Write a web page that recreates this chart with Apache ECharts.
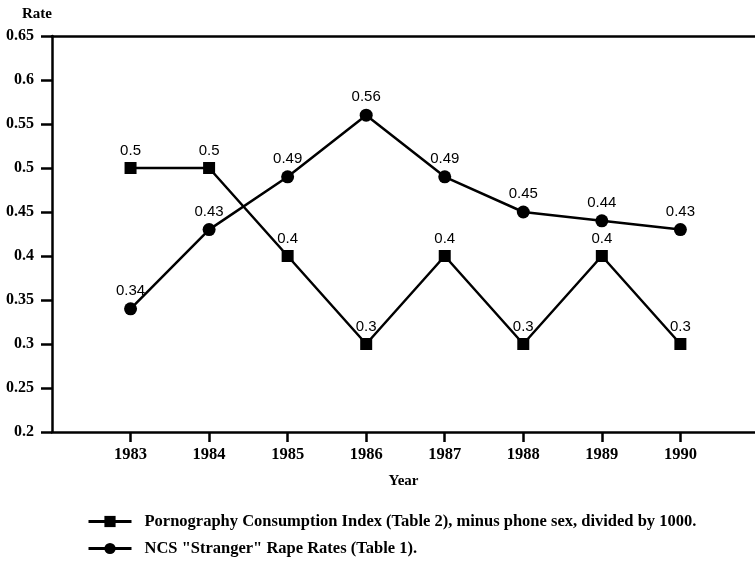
<!DOCTYPE html>
<html><head><meta charset="utf-8">
<script src="https://cdn.jsdelivr.net/npm/echarts@6/dist/echarts.min.js"></script>
<style>html,body{margin:0;padding:0;background:#fff}#c{width:755px;height:568px}</style>
</head><body><div id="c"></div>
<script>
const years = [1983, 1984, 1985, 1986, 1987, 1988, 1989, 1990];
const pornIndex = [0.5, 0.5, 0.4, 0.3, 0.4, 0.3, 0.4, 0.3];
const rapeRates = [0.34, 0.43, 0.49, 0.56, 0.49, 0.45, 0.44, 0.43];
const yTicks = [0.2, 0.25, 0.3, 0.35, 0.4, 0.45, 0.5, 0.55, 0.6, 0.65];
const seriesNames = ['Pornography Consumption Index (Table 2), minus phone sex, divided by 1000.', 'NCS "Stranger" Rape Rates (Table 1).'];

const serif = 'Liberation Serif';
const chart = echarts.init(document.getElementById('c'));
const pair = (xs, ys) => xs.map((x, i) => [x, ys[i]]);
const lblStyle = {show: true, position: 'top', distance: 4, color: '#000', fontFamily: 'Liberation Sans', fontSize: 15, formatter: p => String(p.value[1])};
chart.setOption({
  animation: false,
  grid: {left: 52, right: 0, top: 36, bottom: 136},
  xAxis: [{
    type: 'value', min: 1982, max: 1990.95, interval: 1,
    name: 'Year', nameLocation: 'middle', nameGap: 42,
    nameTextStyle: {fontFamily: serif, fontWeight: 'bold', fontSize: 15, color: '#000'},
    axisLine: {show: true, lineStyle: {color: '#000', width: 2.5}},
    axisTick: {show: true, customValues: years, length: 10, lineStyle: {color: '#000', width: 2.5}},
    axisLabel: {customValues: years, margin: 14, fontFamily: serif, fontWeight: 'bold', fontSize: 16.5, color: '#000', formatter: v => String(v)},
    splitLine: {show: false}
  }, {
    type: 'value', position: 'top', min: 1982, max: 1990.95,
    axisLine: {show: true, lineStyle: {color: '#000', width: 2.5}},
    axisTick: {show: false}, axisLabel: {show: false}, splitLine: {show: false}
  }],
  yAxis: {
    type: 'value', min: 0.2, max: 0.65, interval: 0.05,
    name: 'Rate', nameLocation: 'end', nameGap: 14,
    nameTextStyle: {fontFamily: serif, fontWeight: 'bold', fontSize: 15, color: '#000', align: 'right', padding: [0, 0, 0, 0]},
    axisLine: {show: true, lineStyle: {color: '#000', width: 2.5}},
    axisTick: {show: true, length: 11, lineStyle: {color: '#000', width: 2.5}},
    axisLabel: {margin: 18, fontFamily: serif, fontWeight: 'bold', fontSize: 16, color: '#000', formatter: v => String(Math.round(v * 100) / 100)},
    splitLine: {show: false}
  },
  legend: {
    orient: 'vertical', left: 82, top: 508, itemGap: 10, itemWidth: 43, itemHeight: 14,
    lineStyle: {width: 3},
    textStyle: {fontFamily: serif, fontWeight: 'bold', fontSize: 16.5, color: '#000', padding: [0, 0, 0, 8]},
    data: seriesNames
  },
  series: [{
    name: seriesNames[0], type: 'line', data: pair(years, pornIndex),
    symbol: 'rect', symbolSize: 12,
    lineStyle: {color: '#000', width: 2.5}, itemStyle: {color: '#000'},
    label: lblStyle
  }, {
    name: seriesNames[1], type: 'line', data: pair(years, rapeRates),
    symbol: 'circle', symbolSize: 13,
    lineStyle: {color: '#000', width: 2.5}, itemStyle: {color: '#000'},
    label: lblStyle
  }]
});
</script></body></html>
